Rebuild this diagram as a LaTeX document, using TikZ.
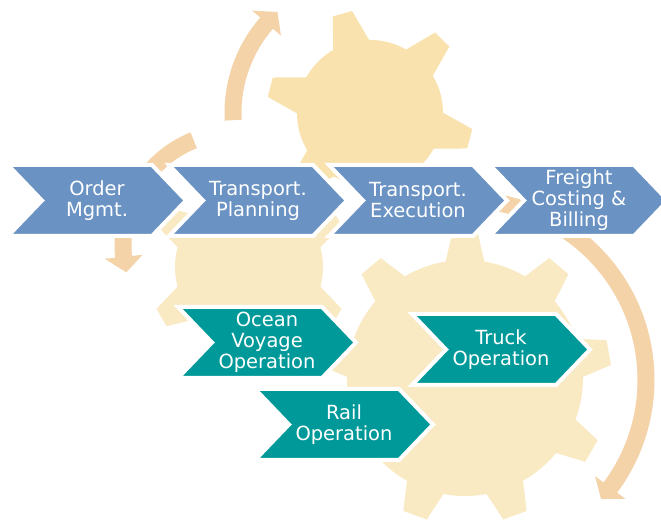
\documentclass[tikz,border=0pt]{standalone}
\usepackage{fontspec}
\setmainfont{DejaVu Sans}
\usepackage{tikz}
\usetikzlibrary{calc}
\usepackage{xcolor}
\definecolor{stageblue}{RGB}{106,147,196}
\definecolor{opteal}{RGB}{0,153,153}
\definecolor{flowtan}{RGB}{245,211,169}
\definecolor{cogsun}{RGB}{249,226,173}
\definecolor{cogpale}{RGB}{250,234,196}

% gear: centre, teeth, first tooth angle, body radius, tip radius, base width, tip width, colour
\newcommand{\cog}[8]{%
  \fill[#8] #1 circle[radius=#4];
  \pgfmathsetmacro{\cogin}{#6/2+(#6/2-#7/2)*6/(#5-#4)}
  \foreach \k in {1,...,#2}{
    \fill[#8, shift={#1}, rotate={#3+360*(\k-1)/#2}]
      ({#4-6},-\cogin) -- (#5,{-#7/2}) -- (#5,{#7/2}) -- ({#4-6},\cogin) -- cycle;
  }
}

% curved arrow: centre, radius, tail angle, head base angle, tip angle
\newcommand{\flowarc}[5]{%
  \fill[flowtan, shift={#1}]
    ({#3}:{#2+8.5}) arc[start angle=#3, end angle=#4, radius={#2+8.5}]
    -- ({#4}:{#2+19}) -- ({#5}:{#2}) -- ({#4}:{#2-19})
    -- ({#4}:{#2-8.5}) arc[start angle=#4, end angle=#3, radius={#2-8.5}] -- cycle;
}

% process step: name, left x, bottom y, colour, text
\newcommand{\stage}[5]{%
  \filldraw[fill=#4, draw=white, line width=3pt]
    (#2,#3) -- ++(144,0) -- ++(34,35.5) -- ++(-34,35.5) -- ++(-144,0) -- ++(34,-35.5) -- cycle;
  \node[stagetext] (#1) at ({#2+89},{#3+35.5}) {#5};
}

\begin{document}
\begin{tikzpicture}[
  x=0.75pt, y=0.75pt,
  stagetext/.style={text=white, align=center, inner sep=0pt,
    font={\fontsize{14.6}{15.8}\selectfont}}
]
\useasboundingbox[fill=white] (0,0) rectangle (661,520);

% Arrows running round the gears
\flowarc{(370,407)}{137}{183}{139}{132.5}
\flowarc{(236,275)}{113}{112}{186}{194}
\flowarc{(466,140)}{180}{95}{-36.7}{-41.4}

% Gears
\cog{(370,407)}{6}{105.5}{73}{103}{36}{20}{cogsun}
\cog{(249,253)}{6}{30}{74}{101}{36}{20}{cogpale}
\cog{(465,142)}{9}{90}{118}{146}{38}{25}{cogpale}

% Main process chain
\stage{order}{8}{284}{stageblue}{Order\\Mgmt.}
\stage{planning}{169}{284}{stageblue}{Transport.\\Planning}
\stage{execution}{329}{284}{stageblue}{Transport.\\Execution}
\stage{billing}{490}{284}{stageblue}{Freight\\Costing \&\\Billing}

% Carrier operations
\stage{ocean}{178}{142}{opteal}{Ocean\\Voyage\\Operation}
\stage{truck}{412}{135}{opteal}{Truck\\Operation}
\stage{rail}{255}{60}{opteal}{Rail\\Operation}

\end{tikzpicture}
\end{document}
